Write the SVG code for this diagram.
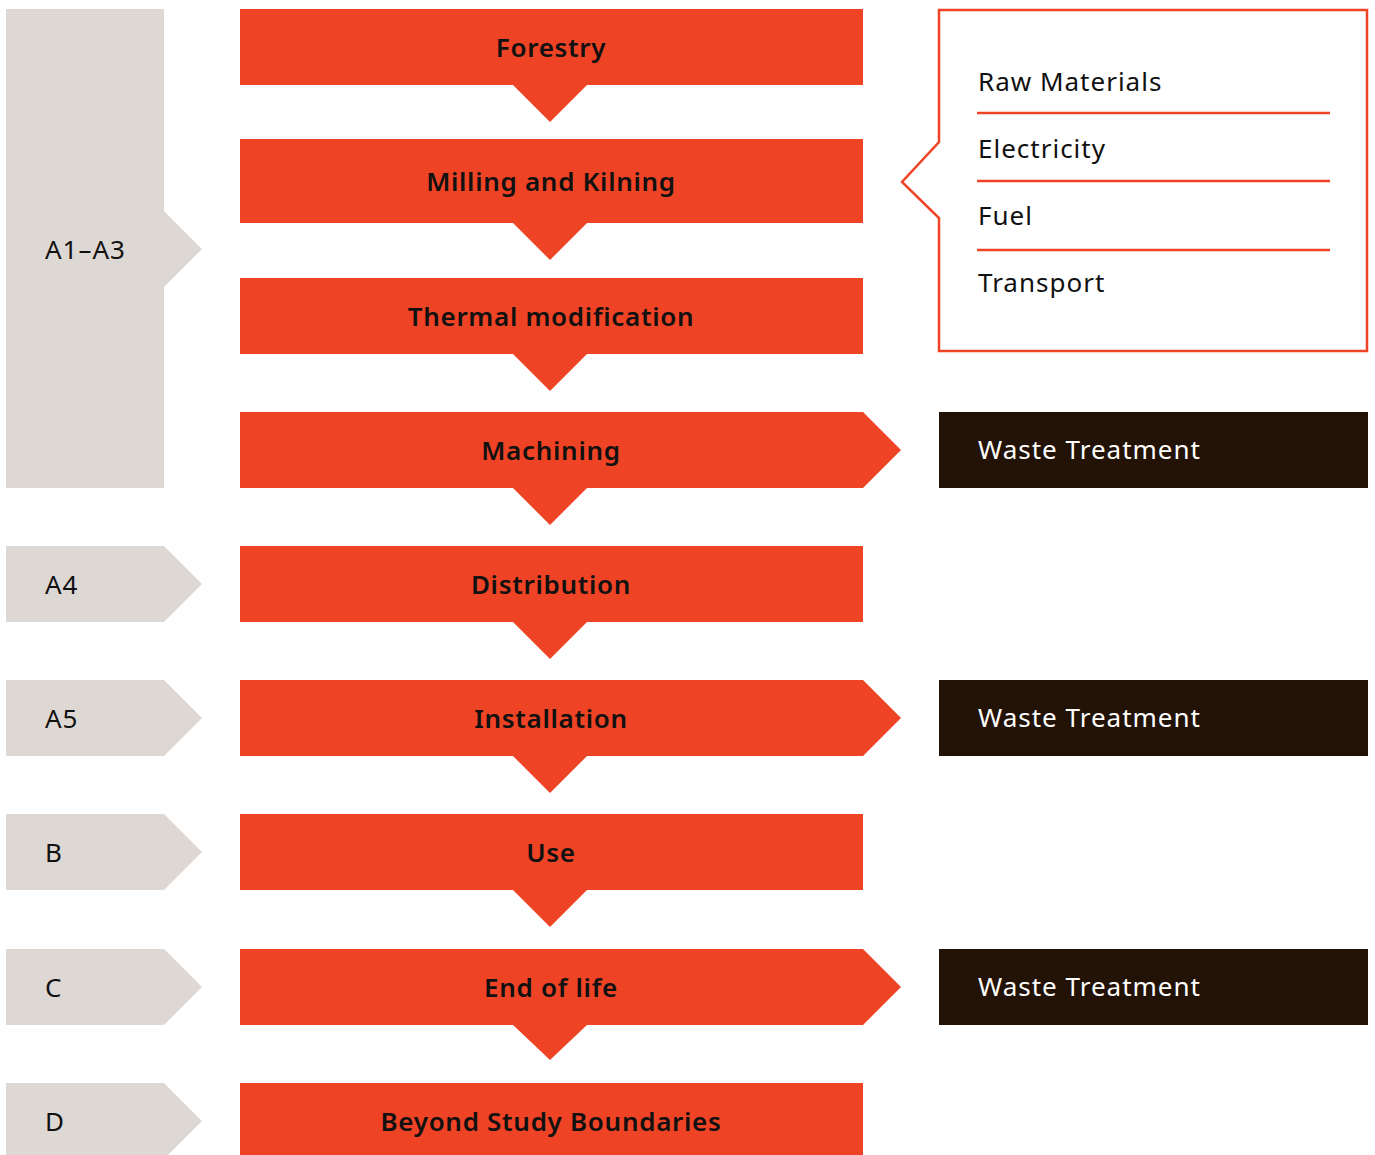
<svg xmlns="http://www.w3.org/2000/svg" width="1375" height="1155" viewBox="0 0 1375 1155">
<style>
.or{fill:#EF4325}
.gr{fill:#DDD8D4}
.dk{fill:#231306}
.t{font-family:"Noto Sans","Liberation Sans",sans-serif;font-size:26px;font-weight:600;fill:#111;text-anchor:middle;letter-spacing:0.7px}
.l{font-family:"Noto Sans","Liberation Sans",sans-serif;font-size:26px;fill:#111;letter-spacing:1px}
.w{font-family:"Noto Sans","Liberation Sans",sans-serif;font-size:26px;fill:#fff;letter-spacing:1px}
.ln{stroke:#EF4325;stroke-width:2.5;fill:none}
</style>
<rect width="1375" height="1155" fill="#fff"/>
<g id="stages">
<g id="s-a1a3"><path class="gr" d="M6 9H164V211L202 249L164 287V488H6Z"/><text class="l" x="45" y="259">A1–A3</text></g>
<g id="s-a4"><path class="gr" d="M6 546H164L202 584L164 622H6Z"/><text class="l" x="45" y="594">A4</text></g>
<g id="s-a5"><path class="gr" d="M6 680H164L202 718L164 756H6Z"/><text class="l" x="45" y="728">A5</text></g>
<g id="s-b"><path class="gr" d="M6 814H164L202 852L164 890H6Z"/><text class="l" x="45" y="862">B</text></g>
<g id="s-c"><path class="gr" d="M6 949H164L202 987L164 1025H6Z"/><text class="l" x="45" y="997">C</text></g>
<g id="s-d"><path class="gr" d="M6 1083H164L202 1121L164 1159H6Z"/><text class="l" x="45" y="1131">D</text></g>
</g>
<g id="connectors">
<path class="or" d="M512 84H588L550 122Z"/>
<path class="or" d="M512 222H588L550 260Z"/>
<path class="or" d="M512 353H588L550 391Z"/>
<path class="or" d="M512 487H588L550 525Z"/>
<path class="or" d="M512 621H588L550 659Z"/>
<path class="or" d="M512 755H588L550 793Z"/>
<path class="or" d="M512 889H588L550 927Z"/>
<path class="or" d="M512 1024H588L550 1060Z"/>
</g>
<g id="n-forestry"><rect class="or" x="240" y="9" width="623" height="76"/><text class="t" x="551" y="57">Forestry</text></g>
<g id="n-milling"><rect class="or" x="240" y="139" width="623" height="84"/><text class="t" x="551" y="191">Milling and Kilning</text></g>
<g id="n-thermal"><rect class="or" x="240" y="278" width="623" height="76"/><text class="t" x="551" y="326">Thermal modification</text></g>
<g id="n-machining"><path class="or" d="M240 412H863L901 450L863 488H240Z"/><text class="t" x="551" y="460">Machining</text></g>
<g id="n-distribution"><rect class="or" x="240" y="546" width="623" height="76"/><text class="t" x="551" y="594">Distribution</text></g>
<g id="n-installation"><path class="or" d="M240 680H863L901 718L863 756H240Z"/><text class="t" x="551" y="728">Installation</text></g>
<g id="n-use"><rect class="or" x="240" y="814" width="623" height="76"/><text class="t" x="551" y="862">Use</text></g>
<g id="n-eol"><path class="or" d="M240 949H863L901 987L863 1025H240Z"/><text class="t" x="551" y="997">End of life</text></g>
<g id="n-beyond"><rect class="or" x="240" y="1083" width="623" height="80"/><text class="t" x="551" y="1131">Beyond Study Boundaries</text></g>
<g id="n-inputs">
<path class="ln" d="M939 10H1367V351H939V218L902 182L939 142Z"/>
<line class="ln" x1="977" y1="113" x2="1330" y2="113"/>
<line class="ln" x1="977" y1="181" x2="1330" y2="181"/>
<line class="ln" x1="977" y1="250" x2="1330" y2="250"/>
<text class="l" x="978" y="91">Raw Materials</text>
<text class="l" x="978" y="158">Electricity</text>
<text class="l" x="978" y="225">Fuel</text>
<text class="l" x="978" y="292">Transport</text>
</g>
<g id="n-waste1"><rect class="dk" x="939" y="412" width="429" height="76"/><text class="w" x="978" y="459">Waste Treatment</text></g>
<g id="n-waste2"><rect class="dk" x="939" y="680" width="429" height="76"/><text class="w" x="978" y="727">Waste Treatment</text></g>
<g id="n-waste3"><rect class="dk" x="939" y="949" width="429" height="76"/><text class="w" x="978" y="996">Waste Treatment</text></g>
</svg>
